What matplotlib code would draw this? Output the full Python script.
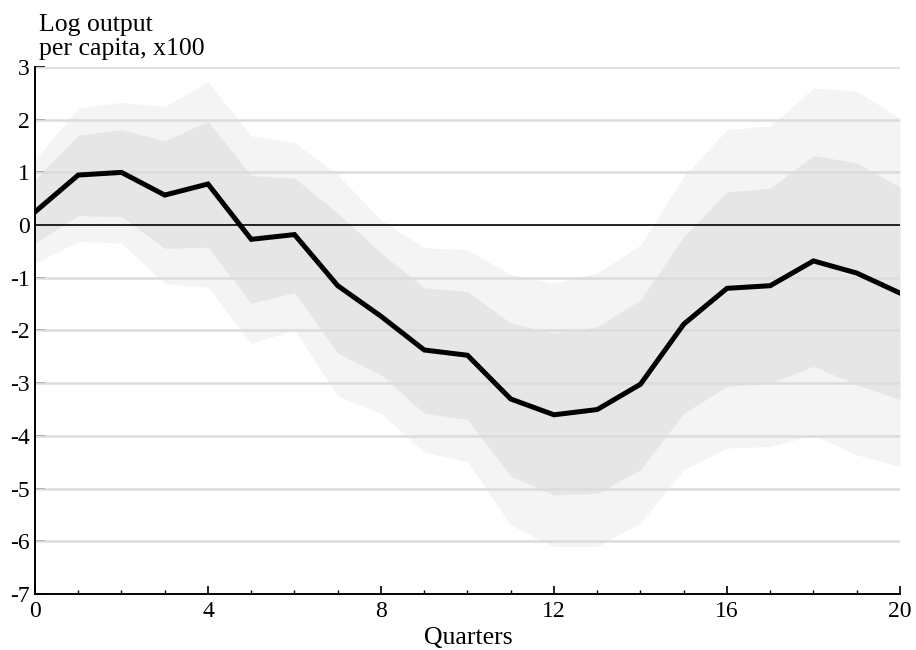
import numpy as np
import matplotlib
matplotlib.use("Agg")
import matplotlib.pyplot as plt
from matplotlib.ticker import MultipleLocator

# -------------------------------------------------------------------------------
# Data
# -------------------------------------------------------------------------------

quarters = list(range(21))

median = [0.25, 0.95, 1.00, 0.57, 0.78, -0.27, -0.18, -1.15, -1.73, -2.37, -2.47,
          -3.30, -3.60, -3.50, -3.02, -1.88, -1.20, -1.15, -0.68, -0.91, -1.29]

# inner band (dark)
inner_hi = [0.86, 1.71, 1.81, 1.60, 1.97, 0.94, 0.89, 0.23, -0.53, -1.19, -1.26,
            -1.86, -2.05, -1.93, -1.42, -0.22, 0.63, 0.70, 1.32, 1.18, 0.72]
inner_lo = [-0.34, 0.18, 0.16, -0.44, -0.42, -1.48, -1.28, -2.43, -2.84, -3.57, -3.69,
            -4.76, -5.12, -5.09, -4.64, -3.57, -3.06, -3.00, -2.68, -3.03, -3.31]

# outer band (light)
outer_hi = [1.24, 2.22, 2.33, 2.25, 2.72, 1.69, 1.57, 0.95, 0.10, -0.43, -0.47,
            -0.94, -1.10, -0.91, -0.38, 0.92, 1.81, 1.88, 2.60, 2.54, 2.03]
outer_lo = [-0.72, -0.31, -0.34, -1.11, -1.18, -2.24, -1.99, -3.24, -3.57, -4.31, -4.49,
            -5.69, -6.10, -6.10, -5.65, -4.64, -4.23, -4.20, -3.98, -4.36, -4.58]

y_ticks = list(range(-7, 4))
x_ticks = [0, 4, 8, 12, 16, 20]

# -------------------------------------------------------------------------------
# Plot
# -------------------------------------------------------------------------------

plt.rcParams['font.family'] = ['Liberation Serif', 'DejaVu Serif']
plt.rcParams['axes.unicode_minus'] = False

fig = plt.figure(figsize=(9.16, 6.5), dpi=100)
ax = fig.add_axes([0.0382, 0.0862, 0.9443, 0.8107])

ax.fill_between(quarters, outer_lo, outer_hi, color='#f4f4f4', lw=0, zorder=1)
ax.fill_between(quarters, inner_lo, inner_hi, color='#e6e6e6', lw=0, zorder=2)

# horizontal grid lines above the bands
for y in y_ticks[1:]:
    if y == 0:
        continue
    ax.axhline(y, color='#dcdcdc', lw=1.8, zorder=3)
ax.axhline(0, color='black', lw=1.2, zorder=4)

ax.plot(quarters, median, color='black', lw=3.6, solid_joinstyle='miter', zorder=5)

ax.set_xlim(0, 20)
ax.set_ylim(-7, 3)
ax.set_xticks(x_ticks)
ax.xaxis.set_minor_locator(MultipleLocator(1))
ax.set_yticks(y_ticks)

for side in ['top', 'right']:
    ax.spines[side].set_visible(False)
for side in ['left', 'bottom']:
    ax.spines[side].set_linewidth(1.4)
    ax.spines[side].set_zorder(6)

ax.tick_params(axis='y', direction='in', length=7, width=1.2, labelsize=17, pad=4)
ax.tick_params(axis='x', which='major', direction='in', length=6, width=1.2, labelsize=17, pad=5)
ax.tick_params(axis='x', which='minor', direction='in', length=3, width=1.0)
for lbl in ax.get_yticklabels():
    lbl.set_va('center_baseline')

fig.text(0.511, 1 - 644 / 650, 'Quarters', fontsize=18.5, ha='center', va='baseline')
fig.text(0.0426, 1 - 30.7 / 650, 'Log output', fontsize=18.5, ha='left', va='baseline')
fig.text(0.0426, 1 - 55.0 / 650, 'per capita, x100', fontsize=18.5, ha='left', va='baseline')

fig.savefig('out.png', dpi=100)
